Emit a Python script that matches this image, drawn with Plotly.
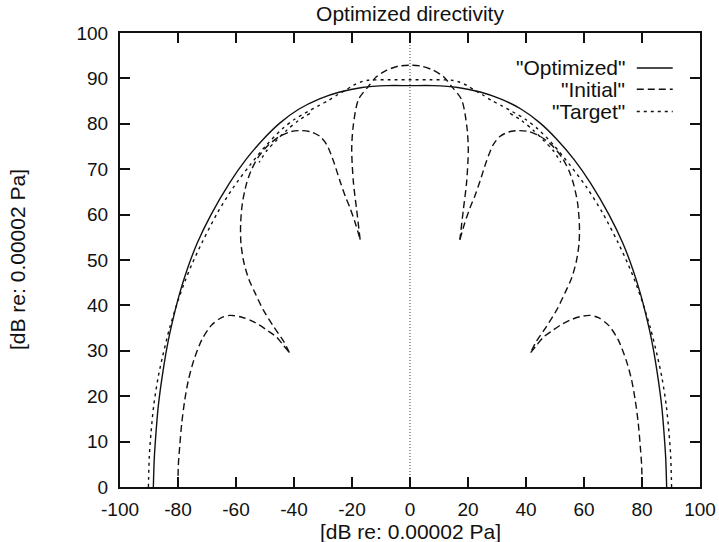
import plotly.graph_objects as go

# ---- directivity curves, as x/y pairs in dB (None separates branches) ----
optimized_x = [-88.5, -88.2, -87.7, -86.8, -85.1, -83.3, -81.4, -79.4, -76.9, -73.4,
               -68.6, -62.2, -56.6, -50.6, -44.8, -38.4, -31.2, -24.2, -16.5, -8.0, 0.0,
               8.0, 16.5, 24.2, 31.2, 38.4, 44.8, 50.6, 56.6, 62.2, 68.6,
               73.4, 76.9, 79.4, 81.4, 83.3, 85.1, 86.8, 87.7, 88.2, 88.5]
optimized_y = [0.0, 6.0, 11.0, 17.8, 25.8, 32.4, 37.8, 42.7, 47.8, 53.7,
               60.0, 67.0, 72.1, 76.6, 80.2, 83.2, 85.5, 87.0, 88.0, 88.4, 88.4,
               88.4, 88.0, 87.0, 85.5, 83.2, 80.2, 76.6, 72.1, 67.0, 60.0,
               53.7, 47.8, 42.7, 37.8, 32.4, 25.8, 17.8, 11.0, 6.0, 0.0]

initial_x = [
    # lower-left lobe
    -80.0, -79.9, -79.4, -78.7, -77.7, -76.4, -74.5, -71.8, -68.5, -65.0, -62.1,
    -58.5, -55.0, -52.0, -49.0, -46.0, -43.5, -41.6, None,
    # left side lobe
    -41.6, -43.5, -47.1, -50.6, -53.4, -55.6, -57.3, -58.3, -58.4, -57.8, -56.5,
    -55.0, -52.5, -49.0, -45.0, -41.0, -37.5, -34.0, -31.0, -28.7, -26.4, -24.1,
    -22.3, -20.7, -18.8, -17.2, None,
    # main lobe
    -17.2, -18.4, -19.5, -20.1, -19.6, -17.8, -14.4, -11.5, -8.0, -4.0, 0.0,
    4.0, 8.0, 11.5, 14.4, 17.8, 19.6, 20.1, 19.5, 18.4, 17.2, None,
    # right side lobe
    17.2, 18.8, 20.7, 22.3, 24.1, 26.4, 28.7, 31.0, 34.0, 37.5, 41.0,
    45.0, 49.0, 52.5, 55.0, 56.5, 57.8, 58.4, 58.3, 57.3, 55.6, 53.4,
    50.6, 47.1, 43.5, 41.6, None,
    # lower-right lobe
    41.6, 43.5, 46.0, 49.0, 52.0, 55.0, 58.5, 62.1, 65.0, 68.5, 71.8,
    74.5, 76.4, 77.7, 78.7, 79.4, 79.9, 80.0,
]
initial_y = [
    0.0, 4.5, 9.0, 14.1, 19.0, 23.6, 28.0, 32.4, 35.6, 37.3, 37.8,
    37.5, 36.7, 35.7, 34.4, 33.0, 31.1, 29.6, None,
    29.6, 32.0, 35.4, 39.0, 42.7, 45.8, 49.5, 53.7, 58.0, 62.5, 66.5,
    69.4, 72.5, 75.2, 77.2, 78.3, 78.5, 78.2, 77.2, 75.4, 71.8, 67.3,
    64.0, 61.5, 58.0, 54.5, None,
    54.5, 61.1, 67.0, 74.3, 79.4, 85.3, 88.2, 90.4, 91.8, 92.7, 92.9,
    92.7, 91.8, 90.4, 88.2, 85.3, 79.4, 74.3, 67.0, 61.1, 54.5, None,
    54.5, 58.0, 61.5, 64.0, 67.3, 71.8, 75.4, 77.2, 78.2, 78.5, 78.3,
    77.2, 75.2, 72.5, 69.4, 66.5, 62.5, 58.0, 53.7, 49.5, 45.8, 42.7,
    39.0, 35.4, 32.0, 29.6, None,
    29.6, 31.1, 33.0, 34.4, 35.7, 36.7, 37.5, 37.8, 37.3, 35.6, 32.4,
    28.0, 23.6, 19.0, 14.1, 9.0, 4.5, 0.0,
]

target_x = [
    -90.2, -89.9, -89.3, -88.4, -86.9, -85.3, -82.9, -80.0, -77.5, -74.9, -71.6,
    -66.3, -60.9, -55.3, -49.4, -44.0, -39.8, -35.2, -31.5, -28.0, -25.0, -22.0,
    -19.5, -17.0, -14.4, -7.0, 0.0, 7.0, 14.4, 17.0, 19.5, 22.0, 25.0, 28.0, 31.5,
    35.2, 39.8, 44.0, 49.4, 55.3, 60.9, 66.3, 71.6, 74.9, 77.5, 80.0, 82.9, 85.3,
    86.9, 88.4, 89.3, 89.9, 90.2, None,
    -34.5, -38.5, -42.5, -46.0, -49.5, -52.0, None,
    34.5, 38.5, 42.5, 46.0, 49.5, 52.0,
]
target_y = [
    0.0, 6.7, 12.0, 17.8, 24.0, 28.8, 35.0, 41.0, 45.5, 49.5, 54.0,
    60.5, 66.0, 70.8, 75.4, 78.9, 81.0, 82.7, 84.0, 85.2, 86.4, 87.5,
    88.5, 89.2, 89.6, 89.7, 89.7, 89.7, 89.6, 89.2, 88.5, 87.5, 86.4, 85.2, 84.0,
    82.7, 81.0, 78.9, 75.4, 70.8, 66.0, 60.5, 54.0, 49.5, 45.5, 41.0, 35.0, 28.8,
    24.0, 17.8, 12.0, 6.7, 0.0, None,
    82.3, 80.7, 78.6, 76.4, 74.0, 71.5, None,
    82.3, 80.7, 78.6, 76.4, 74.0, 71.5,
]

x_ticks = [-100, -80, -60, -40, -20, 0, 20, 40, 60, 80, 100]
y_ticks = [0, 10, 20, 30, 40, 50, 60, 70, 80, 90, 100]

series_names = ['"Optimized"', '"Initial"', '"Target"']
series_dash = ["solid", "7px,4px", "3px,4px"]

FONT = "Liberation Sans, Arial, Helvetica, sans-serif"
INK = "#111111"

fig = go.Figure()
for name, xs, ys, dash in zip(series_names,
                              [optimized_x, initial_x, target_x],
                              [optimized_y, initial_y, target_y],
                              series_dash):
    fig.add_trace(go.Scatter(
        x=xs, y=ys, mode="lines", name=name, showlegend=False,
        connectgaps=False,
        line=dict(color=INK, width=1.4, dash=dash, shape="spline", smoothing=0.8),
    ))

# zero axis (dotted vertical at x = 0)
fig.add_shape(type="line", xref="x", yref="y", x0=0, x1=0, y0=0, y1=100,
              line=dict(color="#444444", width=1, dash="1px,2px"), layer="below")

# key, drawn in the upper right corner
key_rows = [0.923, 0.876, 0.827]
for name, dash, yk in zip(series_names, series_dash, key_rows):
    fig.add_annotation(x=0.874, y=yk, xref="paper", yref="paper", text=name,
                       showarrow=False, xanchor="right", yanchor="middle",
                       font=dict(family=FONT, size=21, color=INK))
    fig.add_shape(type="line", xref="paper", yref="paper",
                  x0=0.891, x1=0.953, y0=yk, y1=yk,
                  line=dict(color=INK, width=1.4, dash=dash))

# axis labels
fig.add_annotation(x=0.5, y=1 - (531 - 33) / 454, xref="paper", yref="paper",
                   text="[dB re: 0.00002 Pa]", showarrow=False,
                   xanchor="center", yanchor="middle",
                   font=dict(family=FONT, size=21, color=INK))
fig.add_annotation(x=(17 - 120) / 580, y=0.5, xref="paper", yref="paper",
                   text="[dB re: 0.00002 Pa]", showarrow=False, textangle=-90,
                   xanchor="center", yanchor="middle",
                   font=dict(family=FONT, size=21, color=INK))

axis_common = dict(
    showgrid=False, zeroline=False, showline=True, linecolor=INK, linewidth=2,
    mirror="allticks", ticks="inside", ticklen=10, tickwidth=1.5, tickcolor=INK,
    tickfont=dict(family=FONT, size=19, color=INK), automargin=False,
)
fig.update_xaxes(range=[-100, 100], tickvals=x_ticks,
                 ticktext=[str(v) for v in x_ticks], ticklabelstandoff=4,
                 **axis_common)
fig.update_yaxes(range=[0, 100], tickvals=y_ticks,
                 ticktext=[str(v) for v in y_ticks], ticklabelstandoff=6,
                 **axis_common)

fig.update_layout(
    width=719, height=542,
    margin=dict(l=120, r=19, t=33, b=55),
    paper_bgcolor="white", plot_bgcolor="white",
    title=dict(text="Optimized directivity", x=0.5, xref="paper",
               y=1 - 14 / 542, yanchor="middle", xanchor="center",
               font=dict(family=FONT, size=21, color=INK), automargin=False),
    showlegend=False,
)

fig.write_html("out.html")
